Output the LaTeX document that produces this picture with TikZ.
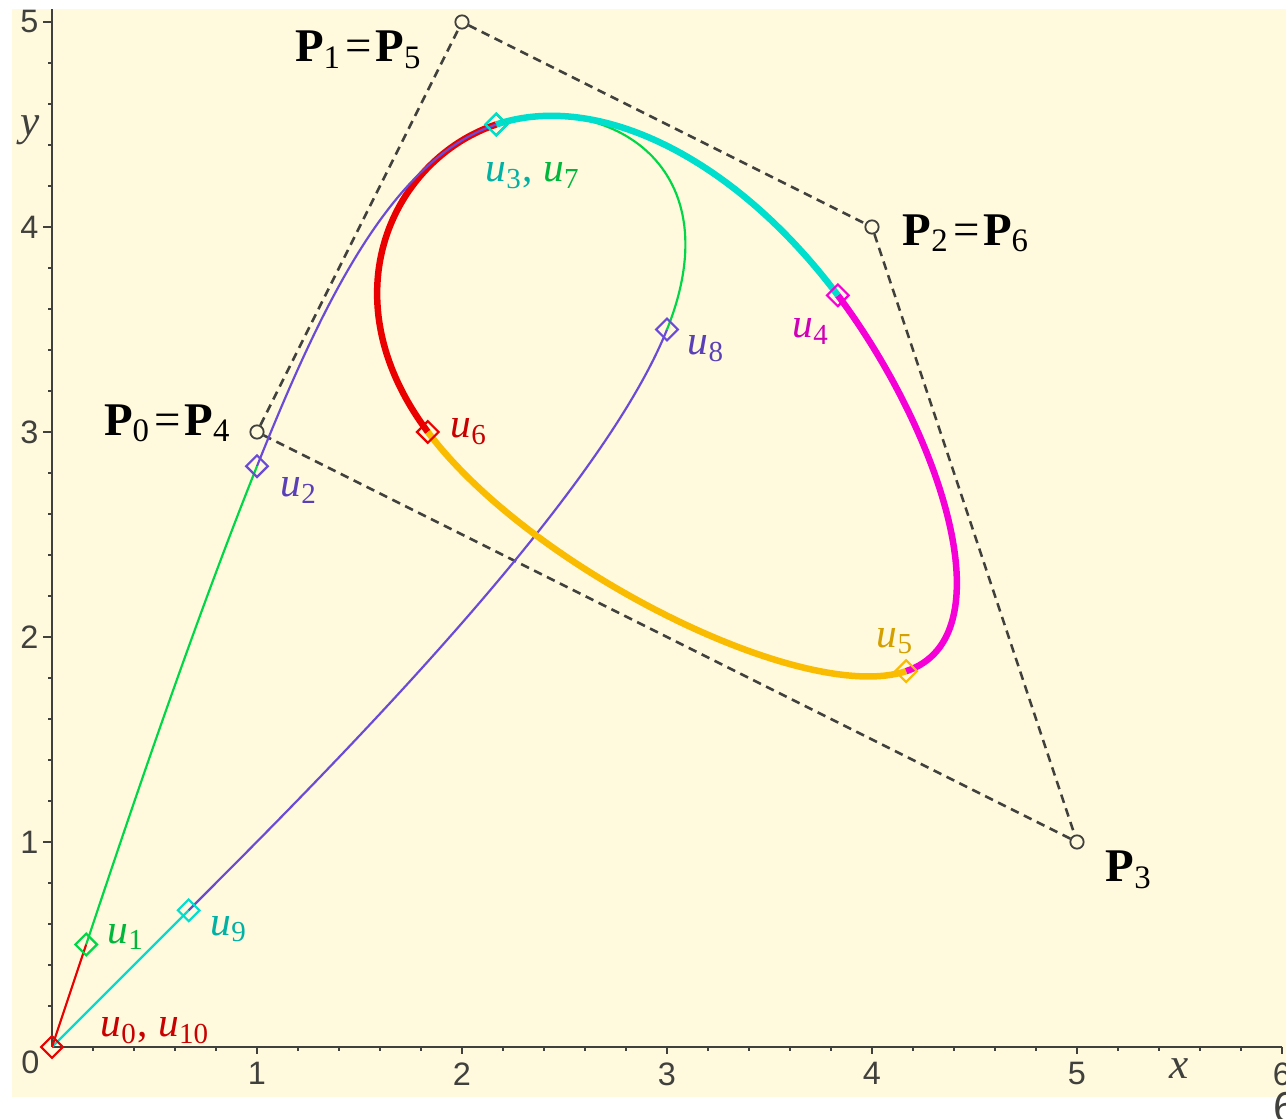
\documentclass[tikz,border=0pt]{standalone}
\usepackage{fontspec}
\setmainfont{Liberation Serif}
\setsansfont{Liberation Sans}
\usetikzlibrary{shapes.geometric}

\definecolor{paper}{RGB}{255,249,222}
\definecolor{ink}{RGB}{64,64,60}
\definecolor{sred}{RGB}{235,0,0}
\definecolor{sgreen}{RGB}{0,215,70}
\definecolor{sblue}{RGB}{105,75,215}
\definecolor{scyan}{RGB}{0,222,205}
\definecolor{smagenta}{RGB}{245,0,215}
\definecolor{sgold}{RGB}{250,188,0}

\newcommand{\uk}[1]{\textit{u}\textsubscript{#1}}
\newcommand{\Pk}[1]{\textbf{P}\textsubscript{#1}}

\tikzset{
    line cap=round,
    line join=round,
    axis/.style={
        draw=ink,
        line width=0.6pt
    },
    ctrlpoly/.style={
        draw=ink,
        line width=0.7pt,
        dash pattern=on 2.4pt off 1.6pt
    },
    ctrlpt/.style={
        circle,
        draw=ink,
        line width=0.5pt,
        inner sep=0pt,
        minimum size=0.13cm
    },
    thinseg/.style={
        line width=0.6pt
    },
    thickseg/.style={
        line width=1.8pt
    },
    knot/.style={
        diamond,
        draw,
        line width=0.6pt,
        inner sep=0pt,
        minimum size=0.22cm
    },
    knotlabel/.style={
        anchor=base west,
        inner sep=0pt,
        font=\fontsize{11.5}{13}\selectfont
    },
    ptlabel/.style={
        inner sep=0pt,
        text=black,
        font=\fontsize{13}{15}\selectfont
    },
    ticklabel/.style={
        inner sep=0pt,
        text=ink,
        font=\sffamily\fontsize{9}{10}\selectfont
    },
    axislabel/.style={
        inner sep=0pt,
        text=ink,
        font=\itshape\fontsize{12}{14}\selectfont
    }
}

\begin{document}
\begin{tikzpicture}[x=2cm, y=2cm]

\useasboundingbox (-0.2537,-0.3512) rectangle (6.0195,5.1073);
\fill[paper] (-0.195,-0.244) rectangle (6.1,5.063);

% axes and ticks
\draw[axis] (0,0) -- (6,0);
\draw[axis] (0,0) -- (0,5.063);
\foreach \i in {1,...,30}
    \draw[axis, line width=0.5pt] (\i/5,0) -- (\i/5,-0.018);
\foreach \i in {1,...,25}
    \draw[axis, line width=0.5pt] (0,\i/5) -- (-0.018,\i/5);
\foreach \x in {1,...,6} {
    \draw[axis] (\x,0) -- (\x,-0.035);
    \node[ticklabel, anchor=north] (xt\x) at (\x,-0.073) {\x};
}
\foreach \y in {1,...,5} {
    \draw[axis] (0,\y) -- (-0.045,\y);
    \node[ticklabel, anchor=east] (yt\y) at (-0.063,\y) {\y};
}
\node[ticklabel] (xt0) at (-0.105,-0.073) {0};
\node[ticklabel, font=\sffamily\fontsize{12}{14}\selectfont, anchor=north west] (cut6) at (5.956,-0.22) {6};
\node[axislabel] (xlab) at (5.498,-0.107) {x};
\node[axislabel] (ylab) at (-0.107,4.473) {y};

% control polygon
\node[ctrlpt] (P0) at (1,3) {};
\node[ctrlpt] (P1) at (2,5) {};
\node[ctrlpt] (P2) at (4,4) {};
\node[ctrlpt] (P3) at (5,1) {};
\draw[ctrlpoly] (P0) -- (P1) -- (P2) -- (P3) -- (P0);

% curve points at the knots
\coordinate (u0) at (0,0);
\coordinate (u1) at (0.1667,0.5);
\coordinate (u2) at (1,2.8333);
\coordinate (u3) at (2.1667,4.5);
\coordinate (u4) at (3.8333,3.6667);
\coordinate (u5) at (4.1667,1.8333);
\coordinate (u6) at (1.8333,3);
\coordinate (u7) at (2.1667,4.5);
\coordinate (u8) at (3,3.5);
\coordinate (u9) at (0.6667,0.6667);
\coordinate (u10) at (0,0);

% one piece per knot span, last span first
\draw[thinseg, scyan] (u9) -- (u10);
\draw[thinseg, sblue] (u8) .. controls (2.6667,2.6667) and (1.3333,1.3333) .. (u9);
\draw[thinseg, sgreen] (u7) .. controls (2.6667,4.6667) and (3.3333,4.3333) .. (u8);
\draw[thickseg, sred] (u6) .. controls (1.3333,3.6667) and (1.6667,4.3333) .. (u7);
\draw[thickseg, sgold] (u5) .. controls (3.6667,1.6667) and (2.3333,2.3333) .. (u6);
\draw[thickseg, smagenta] (u4) .. controls (4.3333,3) and (4.6667,2) .. (u5);
\draw[thickseg, scyan] (u3) .. controls (2.6667,4.6667) and (3.3333,4.3333) .. (u4);
\draw[thinseg, sblue] (u2) .. controls (1.3333,3.6667) and (1.6667,4.3333) .. (u3);
\draw[thinseg, sgreen] (u1) .. controls (0.3333,1) and (0.6667,2) .. (u2);
\draw[thinseg, sred] (u0) -- (u1);

\foreach \k/\col in {9/scyan, 8/sblue, 7/sgreen, 6/sred, 5/sgold, 4/smagenta, 3/scyan, 2/sblue, 1/sgreen, 0/sred}
    \node[knot, draw=\col] (d\k) at (u\k) {};

% labels
\node[knotlabel, text=sred!85!black] (l0) at (0.234,0.049) {\uk{0}, \uk{10}};
\node[knotlabel, text=sgreen!85!black] (l1) at (0.268,0.507) {\uk{1}};
\node[knotlabel, text=sblue!85!black] (l2) at (1.112,2.683) {\uk{2}};
\node[knotlabel] (l3) at (2.112,4.22) {\textcolor{scyan!80!black}{\uk{3},} \textcolor{sgreen!85!black}{\uk{7}}};
\node[knotlabel, text=smagenta!85!black] (l4) at (3.61,3.459) {\uk{4}};
\node[knotlabel, text=sgold!85!black] (l5) at (4.02,1.951) {\uk{5}};
\node[knotlabel, text=sred!85!black] (l6) at (1.941,2.971) {\uk{6}};
\node[knotlabel, text=sblue!85!black] (l8) at (3.098,3.376) {\uk{8}};
\node[knotlabel, text=scyan!80!black] (l9) at (0.771,0.546) {\uk{9}};

\node[ptlabel, anchor=base east] (lP0) at (0.878,2.985) {\Pk{0}\kern1pt=\kern1pt\Pk{4}};
\node[ptlabel, anchor=base east] (lP1) at (1.81,4.805) {\Pk{1}\kern1pt=\kern1pt\Pk{5}};
\node[ptlabel, anchor=base west] (lP2) at (4.146,3.912) {\Pk{2}\kern1pt=\kern1pt\Pk{6}};
\node[ptlabel, anchor=base west] (lP3) at (5.137,0.805) {\Pk{3}};

\end{tikzpicture}
\end{document}
